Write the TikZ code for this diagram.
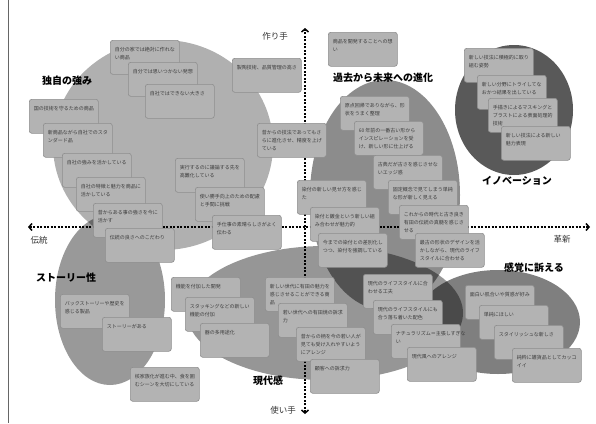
\documentclass[tikz,border=0pt]{standalone}
\usepackage{fontspec}
\setmainfont{Noto Sans CJK JP}
\usetikzlibrary{arrows.meta}
\definecolor{boxfill}{HTML}{B3B3B3}
\definecolor{boxline}{HTML}{8E8E8E}
\definecolor{boxtext}{HTML}{3C3C3C}
\definecolor{axtext}{HTML}{333333}
\tikzset{
  bx/.style={draw=boxline, fill=boxfill, line width=0.6pt, rounded corners=2.5pt,
    anchor=north west, inner xsep=4.5pt, inner ysep=7pt, text=boxtext,
    font=\fontsize{5}{8}\selectfont},
  cat/.style={font=\fontsize{10}{12}\selectfont\bfseries, text=black},
  axlab/.style={font=\fontsize{8.5}{10}\selectfont, text=axtext},
  axisline/.style={line width=1.8pt, dash pattern=on 1.8pt off 1.7pt,
    {Straight Barb[length=3pt,width=7pt,line width=1.5pt]}-{Straight Barb[length=3pt,width=7pt,line width=1.5pt]}},
}
\newcommand{\bt}[1]{\parbox[t][20pt][t]{60pt}{\raggedright #1}}
\begin{document}
\begin{tikzpicture}[x=1pt,y=-1pt]
\useasboundingbox (0,0) rectangle (596,423);
\fill[white] (0,0) rectangle (596,423);
\draw[black!60, line width=0.8pt] (8,0) -- (8,423);

% groups
\fill[black, fill opacity=0.31] (163,145) ellipse [x radius=110pt, y radius=105pt];
\fill[black, fill opacity=0.40] (110,300) ellipse [x radius=55pt, y radius=85pt];
\fill[black, fill opacity=0.41] (325,313) ellipse [x radius=138pt, y radius=67pt];
\fill[black, fill opacity=0.45] (385,195) ellipse [x radius=75pt, y radius=115pt];
\fill[black, fill opacity=0.65] (514,110) ellipse [x radius=59pt, y radius=65pt];
\fill[black, fill opacity=0.50] (498,322) ellipse [x radius=82pt, y radius=52pt];

% axes
\coordinate (atop) at (305,28);
\coordinate (abot) at (305,414);
\coordinate (alft) at (28,227);
\coordinate (argt) at (590,227);
\draw[axisline] (abot) -- (atop);
\draw[axisline] (alft) -- (argt);
\node[axlab] (lmaker) at (275,36) {作り手};
\node[axlab] (luser) at (283,410) {使い手};
\node[axlab] (ltrad) at (39,240) {伝統};
\node[axlab] (linno) at (562,239) {革新};

% category labels
\node[cat] (c1) at (67,81) {独自の強み};
\node[cat] (c2) at (66,278) {ストーリー性};
\node[cat] (c3) at (268,381) {現代感};
\node[cat] (c4) at (383,78) {過去から未来への進化};
\node[cat] (c5) at (517,181) {イノベーション};
\node[cat] (c6) at (534,268) {感覚に訴える};

% 独自の強み
\node[bx] (b1) at (110,40) {\bt{自分の家では絶対に作れな\\い商品}};
\node[bx] (b2) at (128,62) {\bt{自分では思いつかない発想}};
\node[bx] (b3) at (145,84) {\bt{自社ではできない大きさ}};
\node[bx] (b4) at (29,99) {\bt{国の技術を守るための商品}};
\node[bx] (b5) at (43,123) {\bt{新商品ながら自社でのスタ\\ンダード品}};
\node[bx] (b6) at (62,153) {\bt{自社の強みを活かしている}};
\node[bx] (b7) at (76,177) {\bt{自社の特徴と魅力を商品に\\活かしている}};
\node[bx] (b8) at (93,203) {\bt{昔からある事の強さを今に\\活かす}};
\node[bx] (b9) at (105,228) {\bt{伝統の良さへのこだわり}};
\node[bx] (b10) at (175,158) {\bt{実行するのに議論する先を\\高難化している}};
\node[bx] (b11) at (195,187) {\bt{使い勝手向上のための配慮\\と手間に挑戦}};
\node[bx] (b12) at (212,215) {\bt{手仕事の素晴らしさがよく\\伝わる}};
\node[bx] (b13) at (232,58) {\bt{製陶技術、品質管理の高さ}};
\node[bx] (b14) at (257,123) {\bt{昔からの技法であってもさ\\らに進化させ、精度を上げ\\ている}};
\node[bx] (b15) at (328,32) {\bt{商品を開発することへの想\\い}};

% 過去から未来への進化
\node[bx] (b16) at (340,96) {\bt{原点回帰でありながら、形\\状をうまく整理}};
\node[bx] (b17) at (354,121) {\bt{60~年前の一番古い形から\\インスピレーションを受\\け、新しい形に仕上げる}};
\node[bx] (b18) at (373,155) {\bt{古典だが古さを感じさせな\\いエッジ感}};
\node[bx] (b19) at (388,180) {\bt{固定概念で見てしまう単純\\な形が新しく見える}};
\node[bx] (b20) at (297,180) {\bt{染付の新しい見せ方を感じ\\た}};
\node[bx] (b21) at (310,207) {\bt{染付と鍍金という新しい組\\み合わせが魅力的}};
\node[bx] (b22) at (399,205) {\bt{これからの時代と古き良き\\有田の伝統の真髄を感じさ\\せる}};
\node[bx] (b23) at (318,233) {\bt{今までの染付との差別化し\\つつ、染付を強調している}};
\node[bx] (b24) at (415,233) {\bt{最古の形状のデザインを活\\かしながら、現代のライフ\\スタイルに合わせる}};
\node[bx] (b25) at (363,274) {\bt{現代のライフスタイルに合\\わせる工夫}};
\node[bx] (b26) at (373,300) {\bt{現代のライフスタイルにも\\合う落ち着いた配色}};
\node[bx] (b27) at (391,324) {\bt{ナチュラリズム＝主張しすぎな\\い}};
\node[bx] (b28) at (407,347) {\bt{現代風へのアレンジ}};

% 現代感
\node[bx] (b29) at (265,277) {\bt{新しい世代に有田の魅力を\\感じさせることができる商\\品}};
\node[bx] (b30) at (278,303) {\bt{若い世代への有田焼の訴求\\力}};
\node[bx] (b31) at (296,327) {\bt{昔からの柄を今の若い人が\\見ても受け入れやすいよう\\にアレンジ}};
\node[bx] (b32) at (310,359) {\bt{顧客への訴求力}};
\node[bx] (b33) at (171,277) {\bt{機能を付加した開発}};
\node[bx] (b34) at (185,297) {\bt{スタッキングなどの新しい\\機能の付加}};
\node[bx] (b35) at (200,323) {\bt{器の多用途化}};

% ストーリー性
\node[bx] (b36) at (60,294) {\bt{バックストーリーや歴史を\\感じる製品}};
\node[bx] (b37) at (102,317) {\bt{ストーリーがある}};
\node[bx] (b38) at (130,367) {\bt{核家族化が進む中、食を囲\\むシーンを大切にしている}};

% イノベーション
\node[bx] (b39) at (464,48) {\bt{新しい技法に積極的に取り\\組む姿勢}};
\node[bx] (b40) at (477,75) {\bt{新しい分野にトライしてな\\おかつ結果を出している}};
\node[bx] (b41) at (488,98) {\bt{手描きによるマスキングと\\ブラストによる表面処理的\\技術}};
\node[bx] (b42) at (501,126) {\bt{新しい技法による新しい\\魅力表現}};

% 感覚に訴える
\node[bx] (b43) at (465,285) {\bt{面白い肌合いや質感が好み}};
\node[bx] (b44) at (479,305) {\bt{単純にほしい}};
\node[bx] (b45) at (494,325) {\bt{スタイリッシュな新しさ}};
\node[bx] (b46) at (512,348) {\bt{純粋に雑貨品としてカッコ\\イイ}};
\end{tikzpicture}
\end{document}
